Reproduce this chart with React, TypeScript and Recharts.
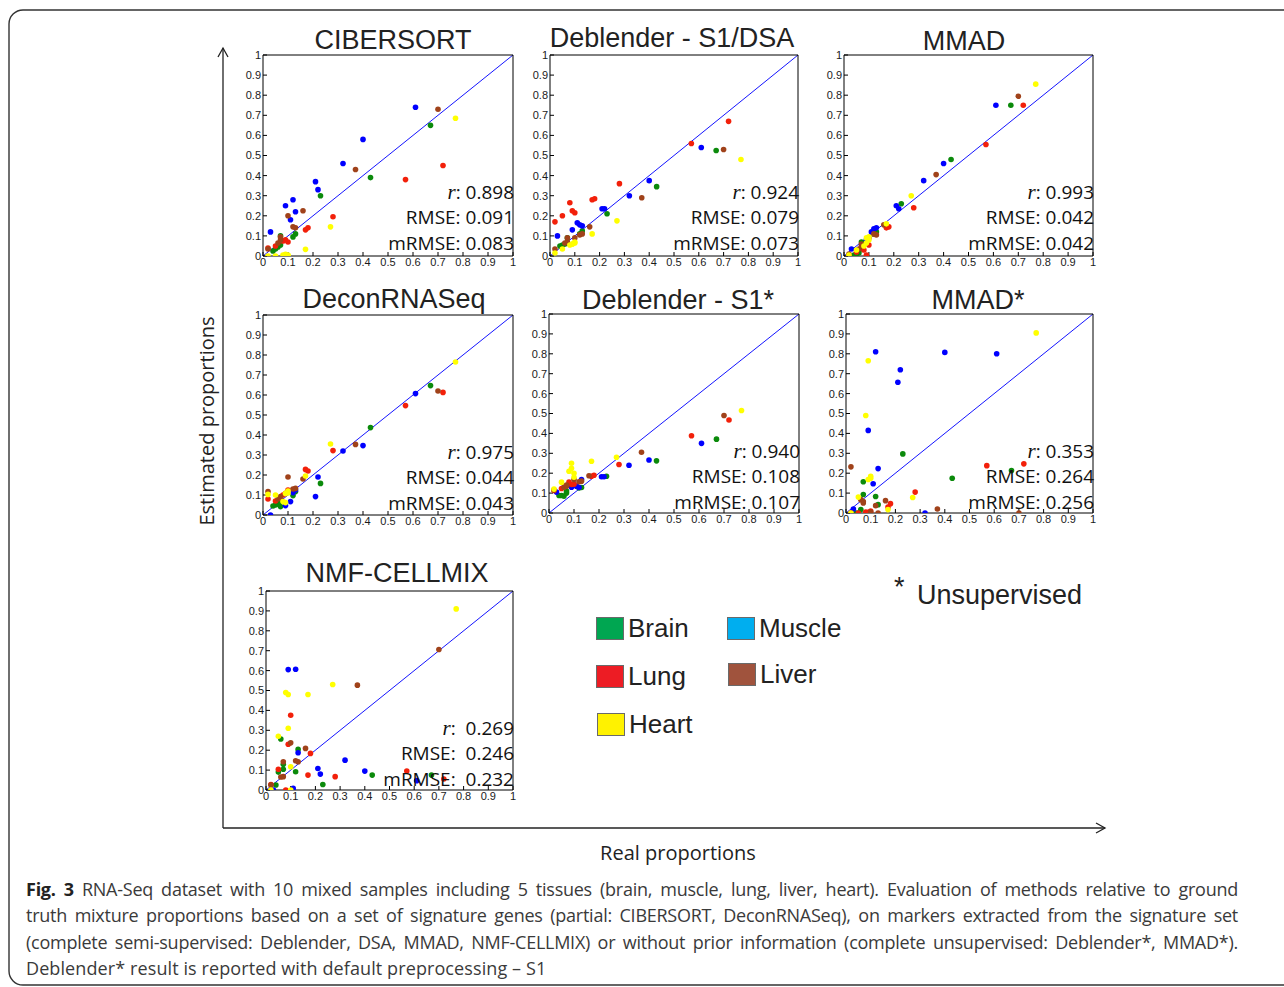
import React from 'react';
import { ScatterChart, Scatter, XAxis, YAxis, ReferenceLine } from 'recharts';

// ---------- data ----------
const TISSUES = ['Brain', 'Muscle', 'Lung', 'Liver', 'Heart'];
const POINT_COLORS = ['#0b8a0b', '#0000ff', '#f2200a', '#a0421a', '#ffff00'];
const LEGEND_COLORS = ['#00a651', '#00aeef', '#ed1c24', '#a0533d', '#fff200'];

const REAL_BRAIN = [0.04, 0.05, 0.06, 0.07, 0.07, 0.12, 0.13, 0.23, 0.43, 0.67];
const REAL_MUSCLE = [0.03, 0.09, 0.11, 0.12, 0.13, 0.21, 0.22, 0.32, 0.40, 0.61];
const REAL_LUNG = [0.02, 0.05, 0.08, 0.09, 0.10, 0.17, 0.18, 0.28, 0.57, 0.72];
const REAL_LIVER = [0.02, 0.06, 0.07, 0.07, 0.10, 0.12, 0.13, 0.16, 0.37, 0.70];
const REAL_HEART = [0.02, 0.05, 0.08, 0.09, 0.09, 0.10, 0.10, 0.17, 0.27, 0.77];
const REAL = [REAL_BRAIN, REAL_MUSCLE, REAL_LUNG, REAL_LIVER, REAL_HEART];

// estimated proportions, tissue order: brain, muscle, lung, liver, heart
const CIBERSORT = [
  [0.025, 0.035, 0.045, 0.055, 0.10, 0.095, 0.11, 0.30, 0.39, 0.65],
  [0.12, 0.25, 0.18, 0.28, 0.22, 0.37, 0.33, 0.46, 0.58, 0.74],
  [0.04, 0.05, 0.075, 0.08, 0.07, 0.13, 0.14, 0.195, 0.38, 0.45],
  [0.035, 0.065, 0.08, 0.095, 0.20, 0.145, 0.14, 0.225, 0.43, 0.73],
  [0, 0, 0.005, 0, 0.008, 0, 0.005, 0.033, 0.145, 0.685],
];
const DEBLENDER_DSA = [
  [0.05, 0.055, 0.06, 0.065, 0.09, 0.11, 0.125, 0.21, 0.345, 0.525],
  [0.10, 0.13, 0.165, 0.155, 0.15, 0.235, 0.235, 0.30, 0.375, 0.54],
  [0.17, 0.20, 0.265, 0.225, 0.215, 0.28, 0.285, 0.36, 0.56, 0.67],
  [0.035, 0.065, 0.07, 0.09, 0.09, 0.105, 0.11, 0.145, 0.29, 0.53],
  [0.015, 0.035, 0.055, 0.06, 0.06, 0.065, 0.07, 0.11, 0.175, 0.48],
];
const MMAD = [
  [0.005, 0.0, 0.015, 0.035, 0.07, 0.11, 0.12, 0.26, 0.48, 0.75],
  [0.035, 0.08, 0.12, 0.135, 0.14, 0.25, 0.235, 0.375, 0.46, 0.75],
  [0.0, 0.02, 0.03, 0.005, 0.055, 0.14, 0.145, 0.24, 0.555, 0.75],
  [0.01, 0.035, 0.05, 0.06, 0.09, 0.11, 0.105, 0.155, 0.405, 0.795],
  [0.005, 0.03, 0.05, 0.065, 0.09, 0.08, 0.095, 0.16, 0.30, 0.855],
];
const DECONRNASEQ = [
  [0.045, 0.05, 0.055, 0.042, 0.065, 0.097, 0.117, 0.158, 0.437, 0.647],
  [0.0, 0.047, 0.067, 0.112, 0.125, 0.092, 0.19, 0.32, 0.347, 0.607],
  [0.08, 0.07, 0.10, 0.108, 0.125, 0.228, 0.22, 0.322, 0.547, 0.613],
  [0.117, 0.08, 0.085, 0.092, 0.19, 0.13, 0.133, 0.18, 0.353, 0.62],
  [0.103, 0.10, 0.067, 0.062, 0.108, 0.11, 0.12, 0.195, 0.355, 0.765],
];
const DEBLENDER_S1_STAR = [
  [0.088, 0.088, 0.085, 0.10, 0.11, 0.126, 0.128, 0.185, 0.262, 0.371],
  [0.105, 0.13, 0.135, 0.128, 0.168, 0.182, 0.182, 0.24, 0.266, 0.35],
  [0.113, 0.123, 0.156, 0.143, 0.145, 0.185, 0.19, 0.244, 0.388, 0.467],
  [0.115, 0.13, 0.135, 0.14, 0.168, 0.157, 0.16, 0.187, 0.305, 0.49],
  [0.12, 0.155, 0.21, 0.25, 0.225, 0.20, 0.18, 0.26, 0.28, 0.515],
];
const MMAD_STAR = [
  [0.0, 0.0, 0.017, 0.157, 0.093, 0.083, 0.042, 0.297, 0.175, 0.213],
  [0.02, 0.415, 0.147, 0.81, 0.223, 0.657, 0.72, 0.0, 0.807, 0.80],
  [0.0, 0.0, 0.005, 0.003, 0.01, 0.03, 0.047, 0.105, 0.238, 0.247],
  [0.232, 0.067, 0.058, 0.05, 0.005, 0.037, 0.0, 0.062, 0.02, 0.0],
  [0.0, 0.08, 0.49, 0.765, 0.168, 0.185, 0.175, 0.017, 0.078, 0.905],
];
const NMF_CELLMIX = [
  [0.025, 0.09, 0.256, 0.129, 0.104, 0.092, 0.204, 0.028, 0.075, 0.075],
  [0.0, 0.605, 0.008, 0.607, 0.187, 0.108, 0.08, 0.15, 0.095, 0.047],
  [0.028, 0.104, 0.0, 0.23, 0.376, 0.075, 0.184, 0.067, 0.095, 0.055],
  [0.025, 0.065, 0.067, 0.142, 0.237, 0.147, 0.142, 0.209, 0.527, 0.706],
  [0.0, 0.27, 0.49, 0.48, 0.31, 0.117, 0.0, 0.48, 0.53, 0.91],
];

const TICKS = [0, 0.1, 0.2, 0.3, 0.4, 0.5, 0.6, 0.7, 0.8, 0.9, 1];
const DIAGONAL = [{ x: 0, y: 0 }, { x: 1, y: 1 }];

const CAPTION_LINES = [
  'RNA-Seq dataset with 10 mixed samples including 5 tissues (brain, muscle, lung, liver, heart). Evaluation of methods relative to ground',
  'truth mixture proportions based on a set of signature genes (partial: CIBERSORT, DeconRNASeq), on markers extracted from the signature set',
  '(complete semi-supervised: Deblender, DSA, MMAD, NMF-CELLMIX) or without prior information (complete unsupervised: Deblender*, MMAD*).',
  'Deblender* result is reported with default preprocessing – S1',
];

// ---------- helpers ----------
const fmt = (v: number) => (v === 0 ? '0' : v === 1 ? '1' : v.toFixed(1));
const SANS = '"Liberation Sans", Arial, sans-serif';
const OPEN = '"Open Sans", sans-serif';

type PanelProps = {
  title: string;
  titleX: number;
  titleY: number;
  left: number;
  top: number;
  w: number;
  h: number;
  est: number[][];
  stats: [string, string, string];
  sep?: string;
};

function Panel({ title, titleX, titleY, left, top, w, h, est, stats, sep = ' ' }: PanelProps) {
  const ML = 32;
  const MT = 6;
  const MR = 6;
  const MB = 22;
  const tickStyle = { fontSize: 11, fill: '#1a1a1a', fontFamily: SANS };
  const lineStyle = { stroke: '#000', strokeWidth: 1 };
  const right = left + w + 1;
  const statY = [top + 137, top + 162, top + 188];
  return (
    <>
      <div
        style={{
          position: 'absolute',
          left: titleX - 200,
          top: titleY - 17,
          width: 400,
          textAlign: 'center',
          fontFamily: SANS,
          fontSize: 27,
          lineHeight: '34px',
          color: '#222',
          whiteSpace: 'nowrap',
        }}
      >
        {title}
      </div>
      <div style={{ position: 'absolute', left: left - ML, top: top - MT - 1 }}>
        <ScatterChart
          width={ML + w + 1 + MR}
          height={MT + 1 + h + MB}
          margin={{ top: MT, right: MR, bottom: 0, left: 0 }}
        >
          <XAxis
            xAxisId="b"
            type="number"
            dataKey="x"
            domain={[0, 1]}
            allowDataOverflow
            ticks={TICKS}
            interval={0}
            orientation="bottom"
            height={MB}
            tickSize={-4}
            tickMargin={6}
            tickFormatter={fmt}
            tick={tickStyle}
            axisLine={lineStyle}
            tickLine={lineStyle}
          />
          <XAxis
            xAxisId="t"
            type="number"
            dataKey="x"
            domain={[0, 1]}
            allowDataOverflow
            ticks={TICKS}
            interval={0}
            orientation="top"
            height={1}
            tickSize={-4}
            tick={false}
            axisLine={lineStyle}
            tickLine={lineStyle}
          />
          <YAxis
            yAxisId="l"
            type="number"
            dataKey="y"
            domain={[0, 1]}
            allowDataOverflow
            ticks={TICKS}
            interval={0}
            orientation="left"
            width={ML}
            tickSize={-4}
            tickMargin={6}
            tickFormatter={fmt}
            tick={tickStyle}
            axisLine={lineStyle}
            tickLine={lineStyle}
          />
          <YAxis
            yAxisId="r"
            type="number"
            dataKey="y"
            domain={[0, 1]}
            allowDataOverflow
            ticks={TICKS}
            interval={0}
            orientation="right"
            width={1}
            tickSize={-4}
            tick={false}
            axisLine={lineStyle}
            tickLine={lineStyle}
          />
          <ReferenceLine
            xAxisId="b"
            yAxisId="l"
            segment={DIAGONAL}
            stroke="#1414ff"
            strokeWidth={1}
            ifOverflow="visible"
          />
          {TISSUES.map((t, i) => (
            <Scatter
              key={t}
              name={t}
              xAxisId="b"
              yAxisId="l"
              data={REAL[i].map((x, j) => ({ x, y: est[i][j] }))}
              isAnimationActive={false}
              shape={(p: any) => <circle cx={p.cx} cy={p.cy} r={2.8} fill={POINT_COLORS[i]} />}
            />
          ))}
        </ScatterChart>
      </div>
      {[0, 1, 2].map((k) => (
        <div
          key={k}
          style={{
            position: 'absolute',
            left: right - 220,
            width: 220,
            top: statY[k] - 13,
            height: 26,
            lineHeight: '26px',
            textAlign: 'right',
            fontFamily: OPEN,
            fontSize: 19,
            color: '#111',
            whiteSpace: 'pre',
          }}
        >
          {k === 0 ? (
            <>
              <span style={{ fontFamily: '"Liberation Serif", serif', fontStyle: 'italic', fontSize: 21 }}>r</span>
              {':' + sep + stats[0]}
            </>
          ) : (
            (k === 1 ? 'RMSE:' : 'mRMSE:') + sep + stats[k]
          )}
        </div>
      ))}
    </>
  );
}

export default function App() {
  return (
    <div
      style={{
        position: 'absolute',
        left: 0,
        top: 0,
        width: 1284,
        height: 987,
        background: '#fff',
        overflow: 'hidden',
      }}
    >
      <svg width={1284} height={987} style={{ position: 'absolute', left: 0, top: 0 }}>
        <rect x={9} y={10} width={1300} height={975} rx={14} ry={14} fill="none" stroke="#333" strokeWidth={1.4} />
        <line x1={223} y1={48} x2={223} y2={828} stroke="#222" strokeWidth={1.3} />
        <polyline points="218,57 223,48 228,57" fill="none" stroke="#222" strokeWidth={1.3} />
        <line x1={223} y1={828} x2={1105} y2={828} stroke="#222" strokeWidth={1.3} />
        <polyline points="1096,823 1105,828 1096,833" fill="none" stroke="#222" strokeWidth={1.3} />
      </svg>

      <Panel title="CIBERSORT" titleX={393} titleY={40} left={263} top={55} w={250} h={201} est={CIBERSORT} stats={['0.898', '0.091', '0.083']} />
      <Panel title="Deblender - S1/DSA" titleX={672} titleY={38} left={550} top={55} w={248} h={201} est={DEBLENDER_DSA} stats={['0.924', '0.079', '0.073']} />
      <Panel title="MMAD" titleX={964} titleY={41} left={844} top={55} w={249} h={201} est={MMAD} stats={['0.993', '0.042', '0.042']} />
      <Panel title="DeconRNASeq" titleX={394} titleY={299} left={263} top={315} w={250} h={200} est={DECONRNASEQ} stats={['0.975', '0.044', '0.043']} />
      <Panel title="Deblender - S1*" titleX={678} titleY={300} left={549} top={314} w={250} h={199} est={DEBLENDER_S1_STAR} stats={['0.940', '0.108', '0.107']} />
      <Panel title="MMAD*" titleX={978} titleY={300} left={846} top={314} w={247} h={199} est={MMAD_STAR} stats={['0.353', '0.264', '0.256']} />
      <Panel title="NMF-CELLMIX" titleX={397} titleY={573} left={266} top={591} w={247} h={199} est={NMF_CELLMIX} stats={['0.269', '0.246', '0.232']} sep="  " />

      {/* axis titles */}
      <div
        style={{
          position: 'absolute',
          left: 207 - 150,
          top: 421 - 14,
          width: 300,
          height: 28,
          lineHeight: '28px',
          textAlign: 'center',
          fontFamily: OPEN,
          fontSize: 20,
          color: '#222',
          transform: 'rotate(-90deg)',
        }}
      >
        Estimated proportions
      </div>
      <div
        style={{
          position: 'absolute',
          left: 678 - 150,
          top: 853 - 14,
          width: 300,
          lineHeight: '28px',
          textAlign: 'center',
          fontFamily: OPEN,
          fontSize: 20,
          color: '#222',
        }}
      >
        Real proportions
      </div>

      {/* legend */}
      {[
        { i: 0, x: 596, y: 617 },
        { i: 1, x: 727, y: 617 },
        { i: 2, x: 596, y: 665 },
        { i: 3, x: 728, y: 663 },
        { i: 4, x: 597, y: 713 },
      ].map(({ i, x, y }) => (
        <React.Fragment key={TISSUES[i]}>
          <div
            style={{
              position: 'absolute',
              left: x,
              top: y,
              width: 26,
              height: 21,
              background: LEGEND_COLORS[i],
              border: '1px solid #6a6a6a',
            }}
          />
          <div
            style={{
              position: 'absolute',
              left: x + 32,
              top: y - 6,
              lineHeight: '34px',
              fontFamily: SANS,
              fontSize: 26,
              color: '#222',
              whiteSpace: 'nowrap',
            }}
          >
            {TISSUES[i]}
          </div>
        </React.Fragment>
      ))}
      <div
        style={{
          position: 'absolute',
          left: 894,
          top: 570,
          lineHeight: '34px',
          fontFamily: SANS,
          fontSize: 27,
          color: '#222',
        }}
      >
        *
      </div>
      <div
        style={{
          position: 'absolute',
          left: 917,
          top: 578,
          lineHeight: '34px',
          fontFamily: SANS,
          fontSize: 27,
          color: '#222',
          whiteSpace: 'nowrap',
        }}
      >
        Unsupervised
      </div>

      {/* caption */}
      {CAPTION_LINES.map((line, k) => (
        <div
          key={k}
          style={{
            position: 'absolute',
            left: 26,
            top: 889 + k * 26.4 - 12,
            width: k < 3 ? 1212 : 900,
            height: 24,
            lineHeight: '24px',
            fontFamily: OPEN,
            fontSize: 18,
            letterSpacing: k < 3 ? -0.25 : 0.1,
            color: '#3a3a3a',
            whiteSpace: k < 3 ? 'normal' : 'nowrap',
            textAlign: k < 3 ? 'justify' : 'left',
            textAlignLast: k < 3 ? 'justify' : 'left',
          }}
        >
          {k === 0 ? (
            <>
              <b style={{ color: '#222' }}>Fig. 3</b> {line}
            </>
          ) : (
            line
          )}
        </div>
      ))}
    </div>
  );
}
